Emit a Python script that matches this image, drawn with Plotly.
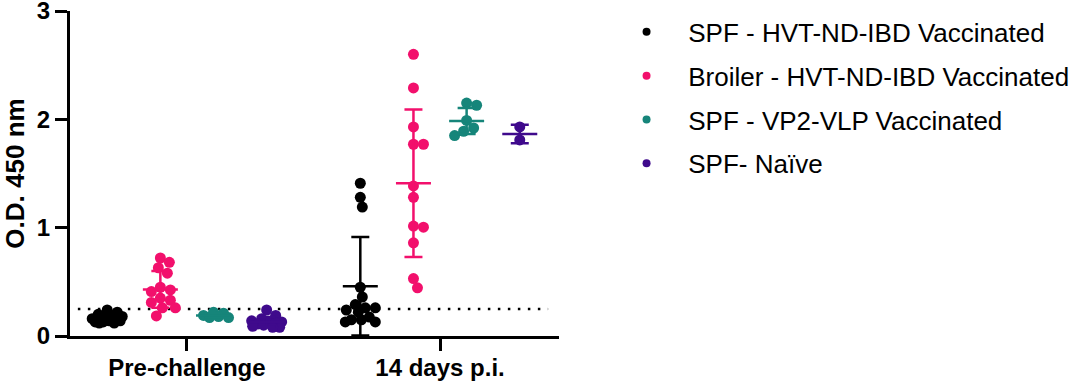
import numpy as np
import plotly.graph_objects as go

# ---------------- data ----------------
categories = ["Pre-challenge", "14 days p.i."]
groups = ["SPF - HVT-ND-IBD Vaccinated", "Broiler - HVT-ND-IBD Vaccinated",
          "SPF - VP2-VLP Vaccinated", "SPF- Naïve"]
colors = ["#000000", "#F2106C", "#16857A", "#3F0A8C"]

spf_hvt_pre = [0.24, 0.22, 0.20, 0.19, 0.18, 0.17, 0.16, 0.16, 0.15, 0.14, 0.14, 0.13, 0.13, 0.12, 0.12]
broiler_hvt_pre = [0.72, 0.68, 0.63, 0.58, 0.45, 0.425, 0.41, 0.35, 0.33, 0.31, 0.26, 0.26, 0.185]
spf_vlp_pre = [0.22, 0.21, 0.19, 0.18, 0.17, 0.17]
spf_naive_pre = [0.24, 0.19, 0.16, 0.14, 0.13, 0.12, 0.12, 0.11, 0.10, 0.09, 0.08, 0.08]

spf_hvt_14d = [1.41, 1.28, 1.19, 0.45, 0.36, 0.29, 0.26, 0.26, 0.24, 0.22, 0.175, 0.15, 0.15, 0.13, 0.13]
broiler_hvt_14d = [2.60, 2.29, 1.93, 1.77, 1.77, 1.385, 1.28, 1.015, 1.005, 0.86, 0.53, 0.445]
spf_vlp_14d = [2.15, 2.13, 1.99, 1.92, 1.89, 1.85]
spf_naive_14d = [1.93, 1.81]

mean_pre = [0.163, 0.43, 0.19, 0.13]
sd_pre = [0.04, 0.17, 0.02, 0.045]
mean_14d = [0.46, 1.41, 1.985, 1.865]
sd_14d = [0.455, 0.68, 0.12, 0.085]

threshold = 0.25

values = [[spf_hvt_pre, broiler_hvt_pre, spf_vlp_pre, spf_naive_pre],
          [spf_hvt_14d, broiler_hvt_14d, spf_vlp_14d, spf_naive_14d]]
means = [mean_pre, mean_14d]
sds = [sd_pre, sd_14d]

# ---------------- layout constants ----------------
W, H = 1084, 383
ML, MR, MT, MB = 70, 525, 11, 47
XR = [-0.462, 1.470]
YR = [0, 3]
pxx = (W - ML - MR) / (XR[1] - XR[0])
pxy = (H - MT - MB) / (YR[1] - YR[0])
DIAM = 11
MAXOFF = 15          # max horizontal spread of a group, px
group_step = 0.21


def swarm(vals):
    """Compact beeswarm offsets (x data units); overlap allowed when crowded."""
    vals = np.asarray(vals, dtype=float)
    order = np.argsort(-vals)
    placed = []
    offs = np.zeros(len(vals))
    cands = [0]
    for k in range(1, MAXOFF + 1):
        cands += [k, -k]
    for i in order:
        yp = vals[i] * pxy
        chosen = None
        best, best_d = 0, -1
        for c in cands:
            d = min([np.hypot(c - px, yp - py) for px, py in placed] or [1e9])
            if d >= DIAM * 0.9:
                chosen = c
                break
            if d > best_d:
                best, best_d = c, d
        if chosen is None:
            chosen = best
        placed.append((chosen, yp))
        offs[i] = chosen / pxx
    return offs


fig = go.Figure()
FONT = "Arial, Liberation Sans, sans-serif"

for ci, cat in enumerate(categories):
    for gi, g in enumerate(groups):
        center = ci + (gi - 1.5) * group_step
        vals = values[ci][gi]
        offs = swarm(vals)
        fig.add_trace(go.Scatter(
            x=center + offs, y=vals, mode="markers",
            marker=dict(size=DIAM, color=colors[gi], line=dict(width=0)),
            showlegend=False, hoverinfo="y"))
for ci, cat in enumerate(categories):
    for gi, g in enumerate(groups):
        center = ci + (gi - 1.5) * group_step
        fig.add_trace(go.Scatter(
            x=[center], y=[means[ci][gi]], mode="markers",
            marker=dict(symbol="line-ew", size=25, color=colors[gi],
                        line=dict(width=2.5, color=colors[gi])),
            error_y=dict(type="data", array=[sds[ci][gi]], symmetric=True,
                         width=9, thickness=2.5, color=colors[gi]),
            showlegend=False, hoverinfo="skip"))

# legend entries
for gi, g in enumerate(groups):
    fig.add_trace(go.Scatter(
        x=[None], y=[None], mode="markers",
        marker=dict(size=8, color=colors[gi]),
        name="\u00a0\u00a0\u00a0" + g, legendgroup=g, showlegend=True))

fig.add_shape(type="line", xref="x", yref="y", x0=-0.431, x1=1.427,
              y0=threshold, y1=threshold,
              line=dict(color="black", width=2.5, dash="2.5px,7.5px"), layer="below")

fig.update_layout(
    width=W, height=H,
    margin=dict(l=ML, r=MR, t=MT, b=MB, autoexpand=False),
    paper_bgcolor="white", plot_bgcolor="white",
    font=dict(family=FONT, color="black"),
    legend=dict(xref="container", yref="container", x=0.578, y=0.978,
                xanchor="left", yanchor="top",
                font=dict(size=26, family=FONT, color="black"),
                tracegroupgap=7, itemsizing="trace"),
    xaxis=dict(range=XR, showgrid=False, zeroline=False,
               showline=True, linecolor="black", linewidth=3,
               tickmode="array", tickvals=[0, 1], ticktext=categories,
               ticks="outside", ticklen=12, tickwidth=2.5, tickcolor="black",
               ticklabeloverflow="allow", ticklabelstandoff=-4,
               tickfont=dict(size=24, family=FONT, weight="bold", color="black")),
    yaxis=dict(range=YR, showgrid=False, zeroline=False,
               showline=True, linecolor="black", linewidth=3,
               tickmode="array", tickvals=[0, 1, 2, 3],
               ticks="outside", ticklen=12, tickwidth=2.5, tickcolor="black",
               ticklabeloverflow="allow",
               tickfont=dict(size=24, family=FONT, weight="bold", color="black"),
               title=dict(text="O.D. 450 nm", standoff=12,
                          font=dict(size=26, family=FONT, weight="bold", color="black"))),
)

fig.write_html("out.html", config={"displayModeBar": False},
               post_script="document.body.style.margin='0';document.body.style.overflow='hidden';")
